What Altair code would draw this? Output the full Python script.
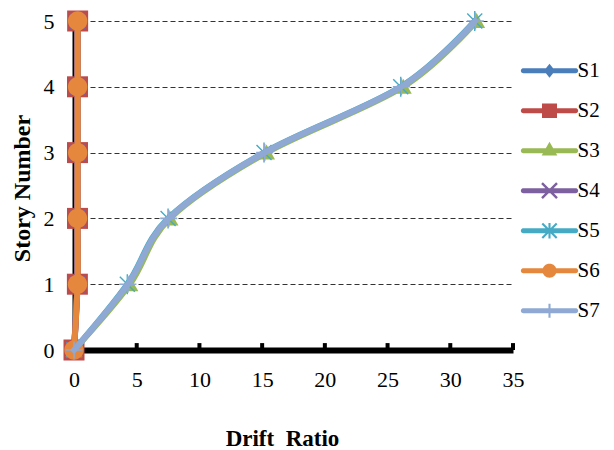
import math
import altair as alt
import pandas as pd

# ---------------- data ----------------
stories = [0, 1, 2, 3, 4, 5]
series_names = ["S1", "S2", "S3", "S4", "S5", "S6", "S7"]
s1 = [0, 0.26, 0.27, 0.27, 0.28, 0.28]
s2 = [0, 0.27, 0.28, 0.28, 0.28, 0.29]
s3 = [0, 4.45, 7.65, 15.35, 26.25, 32.1]
s4 = [0, 0.25, 0.26, 0.27, 0.27, 0.28]
s5 = [0, 4.25, 7.5, 15.15, 26.05, 31.95]
s6 = [0, 0.28, 0.28, 0.29, 0.29, 0.29]
s7 = [0, 4.3, 7.55, 15.2, 26.1, 32.0]
x_ticks = [0, 5, 10, 15, 20, 25, 30, 35]
inner_ticks = [5, 10, 15, 20, 25, 30, 35]
y_ticks = [0, 1, 2, 3, 4, 5]
colors = ["#4A7EBB", "#BE4B48", "#98B954", "#7D60A0", "#46AAC5", "#E5873D", "#8FA9D4"]

values = [s1, s2, s3, s4, s5, s6, s7]
rows = []
for name, vals in zip(series_names, values):
    for st, v in zip(stories, vals):
        rows.append({"series": name, "story": st, "drift": v})
df = pd.DataFrame(rows)
tick_df = pd.DataFrame({"t": inner_ticks})

# ---------------- symbol paths (filled polygons) ----------------
def poly(pts):
    a = 0.0
    for i in range(len(pts)):
        x1, y1 = pts[i]
        x2, y2 = pts[(i + 1) % len(pts)]
        a += x1 * y2 - x2 * y1
    if a < 0:
        pts = pts[::-1]
    return "M" + " L".join(f"{x:.3f},{y:.3f}" for x, y in pts) + " Z"

def bar(x1, y1, x2, y2, t):
    dx, dy = x2 - x1, y2 - y1
    L = math.hypot(dx, dy)
    nx, ny = -dy / L * t, dx / L * t
    return poly([(x1 + nx, y1 + ny), (x2 + nx, y2 + ny), (x2 - nx, y2 - ny), (x1 - nx, y1 - ny)])

def circle(r, n=32):
    return poly([(r * math.cos(2 * math.pi * k / n), r * math.sin(2 * math.pi * k / n)) for k in range(n)])

def capsule(half, t, n=10):
    pts = []
    c = half - t
    for k in range(n + 1):
        a = -math.pi / 2 + math.pi * k / n
        pts.append((c + t * math.cos(a), t * math.sin(a)))
    for k in range(n + 1):
        a = math.pi / 2 + math.pi * k / n
        pts.append((-c + t * math.cos(a), t * math.sin(a)))
    return poly(pts)

def diamond(w, h):
    return poly([(0, -h), (w, 0), (0, h), (-w, 0)])

def square(w, h):
    return poly([(-w, -h), (w, -h), (w, h), (-w, h)])

def triangle(top, base, w):
    return poly([(0, top), (w, base), (-w, base)])

def xmark(a, t):
    return bar(-a, -a, a, a, t) + " " + bar(-a, a, a, -a, t)

def star(a, v, t):
    return xmark(a, t) + " " + bar(0, -v, 0, v, t)

def plus(a, t):
    return bar(0, -a, 0, a, t) + " " + bar(-a, 0, a, 0, t)

marker_paths = [
    diamond(0.7, 0.8),
    square(1.05, 1.05),
    triangle(-0.8, 0.7, 0.85),
    xmark(0.8, 0.08),
    star(0.75, 1.0, 0.07),
    circle(0.97),
    plus(0.85, 0.08),
]

line_part = capsule(1.91, 0.167)
legend_markers = [
    diamond(0.37, 0.47),
    square(0.5, 0.48),
    triangle(-0.6, 0.32, 0.52),
    xmark(0.5, 0.08),
    star(0.48, 0.52, 0.07),
    circle(0.47),
    plus(0.47, 0.07),
]
legend_paths = [line_part + " " + m for m in legend_markers]

FONT = "Liberation Serif"

x_scale = alt.Scale(domain=[0, 35], nice=False, zero=False)
y_scale = alt.Scale(domain=[0, 5], nice=False, zero=False)
color_scale = alt.Scale(domain=series_names, range=colors)
legend_shape_scale = alt.Scale(domain=series_names, range=legend_paths)

x_axis = alt.Axis(
    values=x_ticks, title="Drift\u00a0 Ratio", titleFont=FONT, titleFontSize=23,
    titleFontWeight="bold", titleColor="black", titleX=208, titleY=95,
    titleAlign="center", titleBaseline="alphabetic",
    labelFont=FONT, labelFontSize=22, labelColor="black", labelPadding=19,
    labelFlush=False, ticks=False,
    domainColor="black", domainWidth=6, grid=False,
)
y_axis = alt.Axis(
    values=y_ticks, title="Story Number", titleFont=FONT, titleFontSize=24,
    titleFontWeight="bold", titleColor="black", titleAngle=270, titleX=-44,
    titleY=167, titleAlign="center", titleBaseline="alphabetic",
    labelFont=FONT, labelFontSize=22, labelColor="black", labelPadding=19,
    labelFlush=False, ticks=False, domainColor="black", domainWidth=2, offset=1,
    grid=True, gridColor="#333333", gridDash=[5, 3], gridWidth=1,
)

legend = alt.Legend(
    orient="none", legendX=460.5, legendY=34.7, title=None,
    labelFont=FONT, labelFontSize=21, labelColor="black", labelOffset=13,
    symbolSize=900, rowPadding=15, padding=0, labelLimit=0,
    symbolStrokeWidth=0, symbolOpacity=1,
)

base = alt.Chart(df)

X = lambda f: alt.X(f, scale=x_scale, axis=x_axis, title="Drift\u00a0 Ratio")
Y = lambda f: alt.Y(f, scale=y_scale, axis=y_axis, title="Story Number")
C = lambda: alt.Color("series:N", scale=color_scale, legend=legend, title=None)

# inward (upward) tick marks on the x axis
ticks = alt.Chart(tick_df).transform_calculate(ya="0", yb="0.105").mark_rule(
    color="black", strokeWidth=4
).encode(
    x=X("t:Q"),
    y=Y("ya:Q"),
    y2=alt.Y2("yb:Q"),
)

layers = [ticks]
for i, name in enumerate(series_names):
    line = base.transform_filter(alt.datum.series == name).mark_line(
        strokeWidth=6, interpolate="cardinal", strokeCap="round"
    ).encode(
        x=X("drift:Q"),
        y=Y("story:Q"),
        color=C(),
        order=alt.Order("story:Q"),
    )
    pts = base.transform_filter(alt.datum.series == name).mark_point(
        filled=True, opacity=1, size=400, strokeWidth=0, shape=marker_paths[i]
    ).encode(
        x=X("drift:Q"),
        y=Y("story:Q"),
        color=C(),
    )
    layers += [line, pts]

# legend-only layer (no visible data; legend built from explicit scale domains)
legend_layer = base.transform_filter("false").mark_point(
    filled=True, opacity=1, size=900, strokeWidth=0
).encode(
    x=X("drift:Q"),
    y=Y("story:Q"),
    color=C(),
    shape=alt.Shape("series:N", scale=legend_shape_scale, legend=legend, title=None),
)
layers.append(legend_layer)

chart = alt.layer(*layers).properties(
    width=439, height=329,
    autosize=alt.AutoSizeParams(type="none"),
    padding={"left": 74, "top": 21, "right": 101, "bottom": 100},
    background="white",
).configure_view(stroke=None)

chart.save("out.html", embed_options={"renderer": "svg", "actions": False})
